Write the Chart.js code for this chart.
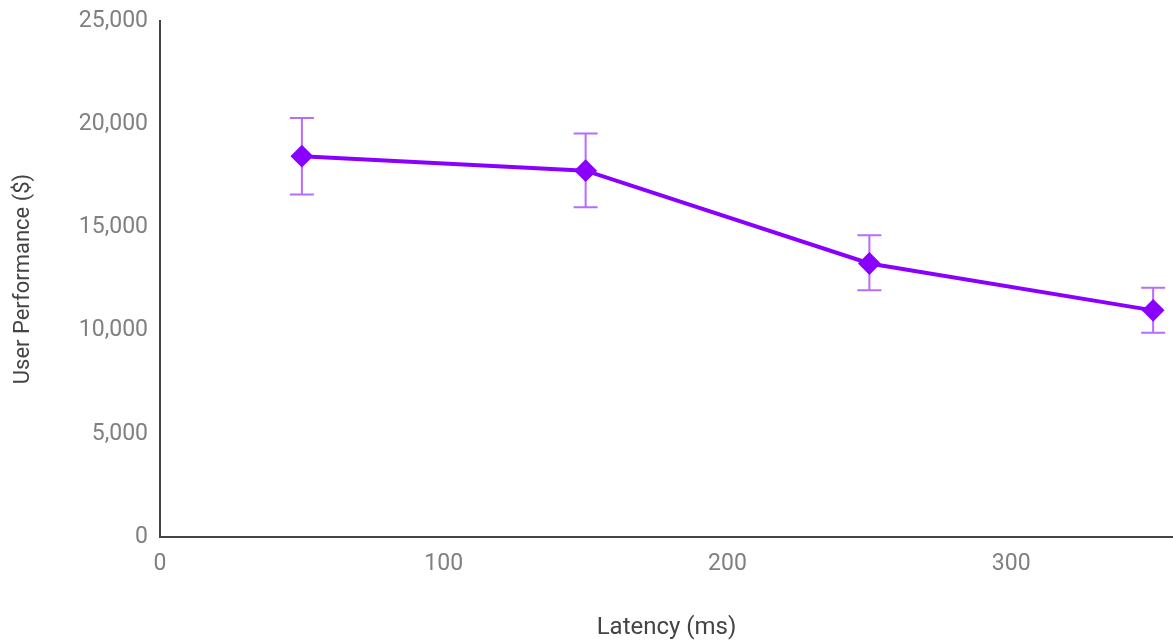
<!DOCTYPE html>
<html>
<head>
<meta charset="utf-8">
<script src="https://cdn.jsdelivr.net/npm/chart.js@4.4.1/dist/chart.umd.min.js"></script>
<style>
    html, body { margin: 0; padding: 0; background: #fff; }
    #wrap { width: 1173px; height: 642px; }
</style>
</head>
<body>
<div id="wrap"><canvas id="chart" width="1173" height="642"></canvas></div>
<script>
// latency (ms) and mean user performance ($) with error ranges
const latency = [50, 150, 250, 350];
const performance = [18450, 17750, 13250, 10980];
const errLow = [16600, 15980, 11950, 9900];
const errHigh = [20300, 19550, 14620, 12080];
const yTicks = [0, 5000, 10000, 15000, 20000, 25000];
const xTicks = [0, 100, 200, 300];

const lineColor = "#8a00ff";
const errColor = "#b86cff";

// draws the vertical error bars with caps, behind the line
const errorBars = {
    id: "errorBars",
    beforeDatasetsDraw(chart) {
        const { ctx, scales: { x, y } } = chart;
        ctx.save();
        ctx.strokeStyle = errColor;
        ctx.lineWidth = 2;
        latency.forEach((v, i) => {
            const px = x.getPixelForValue(v);
            const top = y.getPixelForValue(errHigh[i]);
            const bot = y.getPixelForValue(errLow[i]);
            ctx.beginPath();
            ctx.moveTo(px, top);
            ctx.lineTo(px, bot);
            ctx.moveTo(px - 12, top);
            ctx.lineTo(px + 12, top);
            ctx.moveTo(px - 12, bot);
            ctx.lineTo(px + 12, bot);
            ctx.stroke();
        });
        ctx.restore();
    }
};

new Chart(document.getElementById("chart"), {
    type: "line",
    data: {
        datasets: [{
            data: latency.map((v, i) => ({ x: v, y: performance[i] })),
            borderColor: lineColor,
            backgroundColor: lineColor,
            borderWidth: 4,
            pointStyle: "rectRot",
            pointRadius: 10,
            pointBorderWidth: 2,
            pointBorderColor: lineColor,
            tension: 0,
            clip: false
        }]
    },
    options: {
        responsive: false,
        animation: false,
        layout: { autoPadding: false, padding: 0 },
        plugins: {
            legend: { display: false },
            tooltip: { enabled: false }
        },
        scales: {
            x: {
                type: "linear",
                min: 0,
                max: 357,
                afterBuildTicks: axis => {
                    axis.ticks = xTicks.map(v => ({ value: v }));
                },
                afterFit: axis => { axis.height = 105; },
                grid: { display: false, drawTicks: false },
                border: { color: "#444", width: 2 },
                ticks: {
                    padding: 13,
                    color: "#808080",
                    font: { family: "Roboto", size: 23 },
                    maxRotation: 0
                },
                title: {
                    display: true,
                    text: "Latency (ms)",
                    color: "#444",
                    font: { family: "Roboto", size: 24 },
                    padding: { top: 30, bottom: 0 }
                }
            },
            y: {
                min: 0,
                max: 25000,
                afterBuildTicks: axis => {
                    axis.ticks = yTicks.map(v => ({ value: v }));
                },
                afterFit: axis => {
                    axis.width = 160;
                    axis.paddingTop = 21;
                },
                grid: { display: false, drawTicks: false },
                border: { color: "#444", width: 2 },
                ticks: {
                    padding: 12,
                    color: "#808080",
                    font: { family: "Roboto", size: 23 },
                    callback: v => v.toLocaleString("en-US")
                },
                title: {
                    display: true,
                    text: "User Performance ($)",
                    color: "#444",
                    font: { family: "Roboto", size: 22 },
                    padding: { top: 10, bottom: 0 }
                }
            }
        }
    },
    plugins: [errorBars]
});
</script>
</body>
</html>
